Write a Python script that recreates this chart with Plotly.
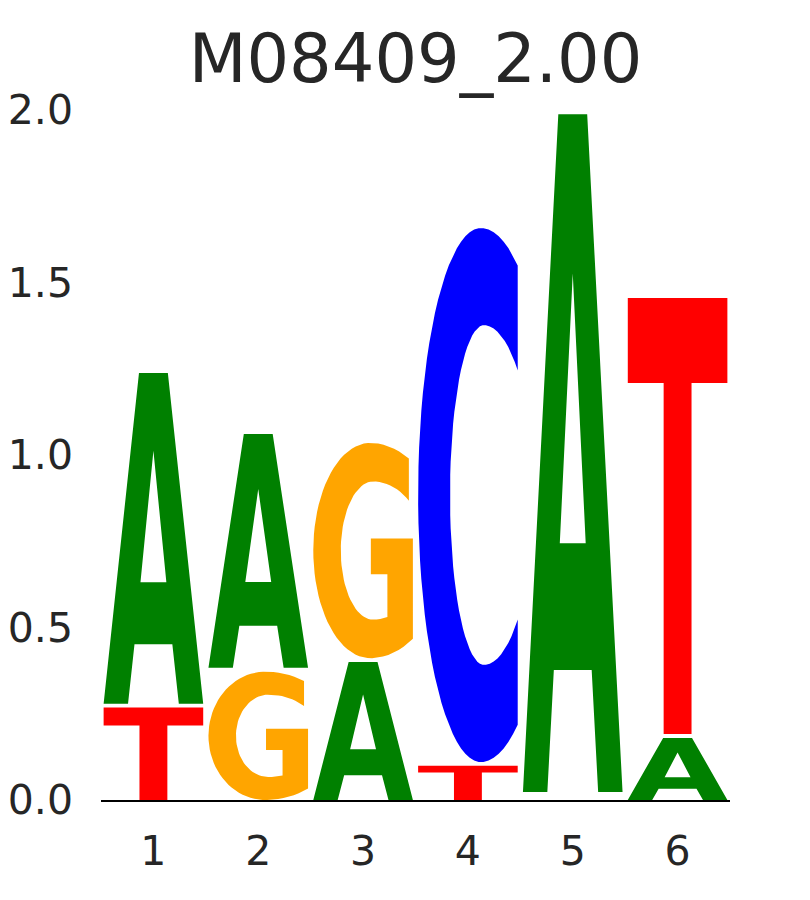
import numpy as np
import plotly.graph_objects as go

# motif information content per position (bits)
positions = [1, 2, 3, 4, 5, 6]
tick_labels = ["1", "2", "3", "4", "5", "6"]
height_A = [0.970, 0.689, 0.400, 0.000, 1.976, 0.180]
height_C = [0.000, 0.000, 0.000, 1.559, 0.004, 0.000]
height_G = [0.000, 0.372, 0.635, 0.000, 0.004, 0.000]
height_T = [0.268, 0.000, 0.000, 0.099, 0.004, 1.275]
y_ticks = [0.0, 0.5, 1.0, 1.5, 2.0]
y_ticktext = ["0.0", "0.5", "1.0", "1.5", "2.0"]

colors = {"A": "#008000", "C": "#0000ff", "G": "#ffa500", "T": "#ff0000"}
TEXT = "#262626"
FONT = "DejaVu Sans"


def arc(cx, cy, rxl, rxr, ry, a0, a1, n=60):
    pts = []
    for a in np.linspace(np.radians(a0), np.radians(a1), n):
        c, s = np.cos(a), np.sin(a)
        rx = rxr if c >= 0 else rxl
        pts.append((cx + rx * c, cy + ry * s))
    return pts


# glyph outlines in a unit box (list of rings; holes wound the other way)
def glyph(letter):
    if letter == "A":
        outer = [(0, 0), (0.355, 1), (0.645, 1), (1, 0), (0.755, 0),
                 (0.69, 0.18), (0.31, 0.18), (0.245, 0)]
        hole = [(0.63, 0.367), (0.5, 0.765), (0.37, 0.367)]
        return [outer, hole]
    if letter == "T":
        return [[(0, 1), (1, 1), (1, 0.805), (0.64, 0.805), (0.64, 0),
                 (0.36, 0), (0.36, 0.805), (0, 0.805)]]
    if letter == "C":
        t_out = np.degrees(np.arccos((1 - 0.63) / 0.725))
        pts = arc(0.63, 0.5, 0.63, 0.725, 0.5, t_out, 360 - t_out)
        pts += arc(0.66, 0.5, 0.34, 0.5, 0.318, 312.9, 47.1)
        return [pts]
    if letter == "G":
        pts = arc(0.57, 0.5, 0.57, 0.75, 0.5, 58.7, 305)
        pts += [(1.0, 0.556), (0.578, 0.556), (0.578, 0.39), (0.744, 0.39)]
        pts += arc(0.6, 0.5, 0.324, 0.52, 0.321, 286.1, 46.2)
        return [pts]


fig = go.Figure()

pad = 0.011
width = 0.95
for i, pos in enumerate(positions):
    col = {"A": height_A[i], "C": height_C[i], "G": height_G[i], "T": height_T[i]}
    order = sorted(col, key=lambda k: col[k])
    base = 0.0
    for letter in order:
        h = col[letter]
        if h <= 0:
            continue
        y0, y1 = base, base + h
        base = y1
        if h < 0.02:
            continue
        if y0 > 0:
            y0 += pad
        xs, ys = [], []
        for ring in glyph(letter):
            for u, v in ring:
                xs.append(pos - width / 2 + width * u)
                ys.append(y0 + (y1 - y0) * v)
            xs.append(xs[-len(ring)])
            ys.append(ys[-len(ring)])
            xs.append(None)
            ys.append(None)
        fig.add_trace(go.Scatter(
            x=xs, y=ys, mode="lines", fill="toself",
            fillcolor=colors[letter], line=dict(width=0),
            hoverinfo="skip", showlegend=False
        ))

# page body adds an 8px offset, margins compensate for it
fig.update_layout(
    width=810,
    height=900,
    margin=dict(l=93, r=88, t=102, b=108, autoexpand=False),
    paper_bgcolor="white",
    plot_bgcolor="white",
    font=dict(family=FONT, color=TEXT),
    title=dict(text="M08409_2.00", x=0.5, xref="paper", xanchor="center",
               y=0.944, yref="container", yanchor="middle",
               font=dict(size=67, color=TEXT, family=FONT)),
    showlegend=False,
)
fig.update_xaxes(
    range=[0.5, 6.5], tickvals=positions, ticktext=tick_labels,
    showgrid=False, zeroline=False, showline=True, linecolor="black",
    linewidth=1.5, ticks="", tickfont=dict(size=41, color=TEXT),
    ticklabelstandoff=14, automargin=False,
)
fig.update_yaxes(
    range=[0, 2.0], tickvals=y_ticks, ticktext=y_ticktext,
    showgrid=False, zeroline=False, showline=False, ticks="",
    tickfont=dict(size=41, color=TEXT), ticklabelstandoff=27,
    automargin=False,
)

fig.write_html("out.html")
